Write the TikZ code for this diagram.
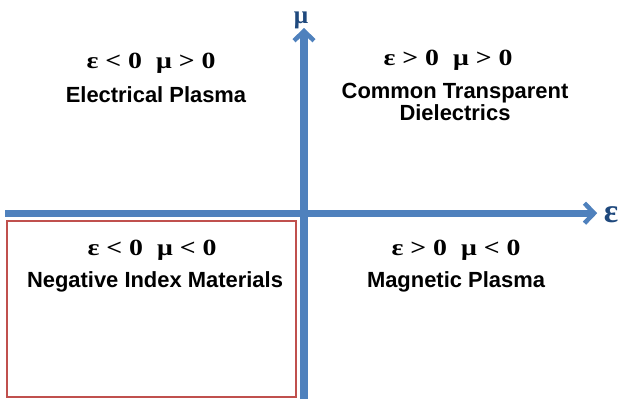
\documentclass[tikz,border=0pt]{standalone}
\usepackage{fontspec}
\setmainfont{Liberation Sans}
\newfontfamily\relfont[FakeStretch=1.2]{Liberation Serif}
\newfontfamily\symfont{Liberation Serif}
\usetikzlibrary{arrows.meta}
\definecolor{axisblue}{RGB}{79,129,189}
\definecolor{labelblue}{RGB}{31,73,125}
\definecolor{boxred}{RGB}{192,80,77}
\begin{document}
\begin{tikzpicture}[
		axis/.style={line width=5pt, draw=axisblue, -{Straight Barb[length=0.24cm, width=0.5cm, line width=3.2pt]}},
		redbox/.style={line width=1.8pt, draw=boxred},
		cond/.style={font=\relfont\bfseries\fontsize{16.5}{18}\selectfont, inner sep=0pt, anchor=base},
		region/.style={font=\bfseries\fontsize{15.6}{15.6}\selectfont, align=center, inner sep=0pt, anchor=base},
		axlabel/.style={text=labelblue, inner sep=0pt, anchor=base},
	]
	\useasboundingbox (0,0) rectangle (15.525,-9.975);

	% Negative index quadrant
	\draw[redbox] (0.18,-5.53) rectangle (7.4,-9.93);

	% Axes
	\coordinate (xstart) at (0.125,-5.33);
	\coordinate (xend)   at (14.93,-5.33);
	\coordinate (ystart) at (7.6,-9.975);
	\coordinate (yend)   at (7.6,-0.7);
	\draw[axis] (xstart) -- (xend);
	\draw[axis] (ystart) -- (yend);

	\node[axlabel, font=\symfont\bfseries\fontsize{18}{18}\selectfont] (mu)  at (7.525,-0.58) {μ};
	\node[axlabel, font=\symfont\bfseries\fontsize{24}{24}\selectfont] (eps) at (15.275,-5.55) {ε};

	% Quadrants
	\node[cond]   (tlcond) at (3.775,-1.7)  {ε < 0 \ μ > 0};
	\node[region] (tlname) at (3.9,-2.55)   {Electrical Plasma};

	\node[cond]   (trcond) at (11.2,-1.625) {ε > 0 \ μ > 0};
	\node[region, anchor=north] (trname) at (11.375,-2.075) {Common Transparent\\Dielectrics};

	\node[cond]   (blcond) at (3.8,-6.375)  {ε < 0 \ μ < 0};
	\node[region] (blname) at (3.875,-7.175) {Negative Index Materials};

	\node[cond]   (brcond) at (11.4,-6.375) {ε > 0 \ μ < 0};
	\node[region] (brname) at (11.4,-7.175) {Magnetic Plasma};

\end{tikzpicture}
\end{document}
